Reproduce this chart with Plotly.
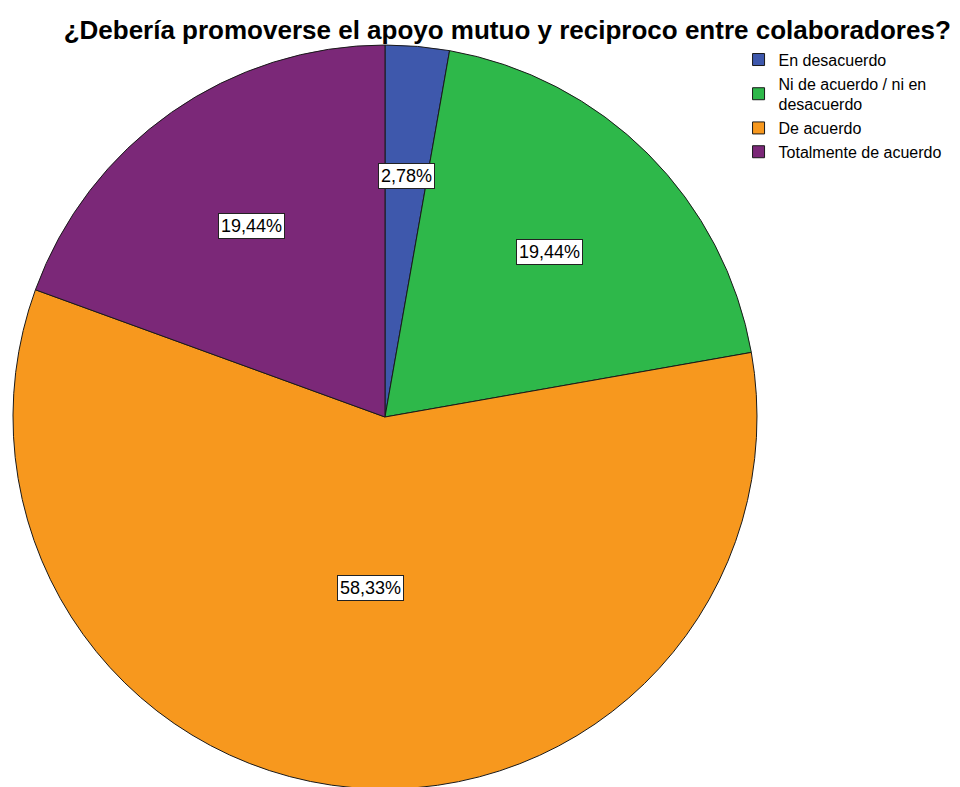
import math

import plotly.graph_objects as go

categories = [
    "En desacuerdo",
    "Ni de acuerdo / ni en<br>desacuerdo",
    "De acuerdo",
    "Totalmente de acuerdo",
]
counts = [1, 7, 21, 7]
colors = ["#3E58AC", "#2EB84A", "#F7981E", "#7B2878"]

W, H = 960, 787
# the page body adds an 8px margin, so everything below is laid out 8px up/left
dom_x = [0.0052, 0.7802]
dom_y = [0.0076, 0.953]

fig = go.Figure()

fig.add_trace(
    go.Pie(
        labels=categories,
        values=counts,
        sort=False,
        direction="clockwise",
        rotation=0,
        textinfo="none",
        marker=dict(colors=colors, line=dict(color="#1a1a1a", width=1)),
        domain=dict(x=dom_x, y=dom_y),
        hovertemplate="%{label}: %{percent}<extra></extra>",
    )
)

# percentage labels in white boxes, placed along each slice's mid angle
total = sum(counts)
cx = (dom_x[0] + dom_x[1]) / 2 * W
cy = (dom_y[0] + dom_y[1]) / 2 * H
r = min((dom_x[1] - dom_x[0]) * W, (dom_y[1] - dom_y[0]) * H) / 2

annotations = []
start = 0.0
for v in counts:
    frac = v / total
    alpha = frac * 2 * math.pi
    mid = start + alpha / 2
    centroid = 4 * math.sin(alpha / 2) / (3 * alpha)
    d = 0.25 + 0.6 * centroid
    annotations.append(
        dict(
            x=(cx + d * r * math.sin(mid)) / W,
            y=(cy + d * r * math.cos(mid)) / H,
            xref="paper",
            yref="paper",
            xanchor="center",
            yanchor="middle",
            text=f"{frac * 100:.2f}%".replace(".", ","),
            showarrow=False,
            font=dict(size=18, color="#000000"),
            bgcolor="#ffffff",
            bordercolor="#222222",
            borderwidth=1,
            borderpad=2,
        )
    )
    start += alpha

fig.update_layout(
    width=W,
    height=H,
    margin=dict(l=0, r=0, t=0, b=0),
    paper_bgcolor="#ffffff",
    plot_bgcolor="#ffffff",
    font=dict(family="Liberation Sans, Arial, sans-serif", color="#000000"),
    title=dict(
        text="<b>¿Debería promoverse el apoyo mutuo y reciproco entre colaboradores?</b>",
        font=dict(size=26, color="#000000"),
        x=0.52,
        xanchor="center",
        y=1 - 22 / H,
        yanchor="middle",
        yref="container",
    ),
    legend=dict(
        x=0.761,
        y=0.956,
        xanchor="left",
        yanchor="top",
        font=dict(size=16),
        itemwidth=30,
        bgcolor="rgba(0,0,0,0)",
    ),
    annotations=annotations,
)

fig.write_html("out.html")
